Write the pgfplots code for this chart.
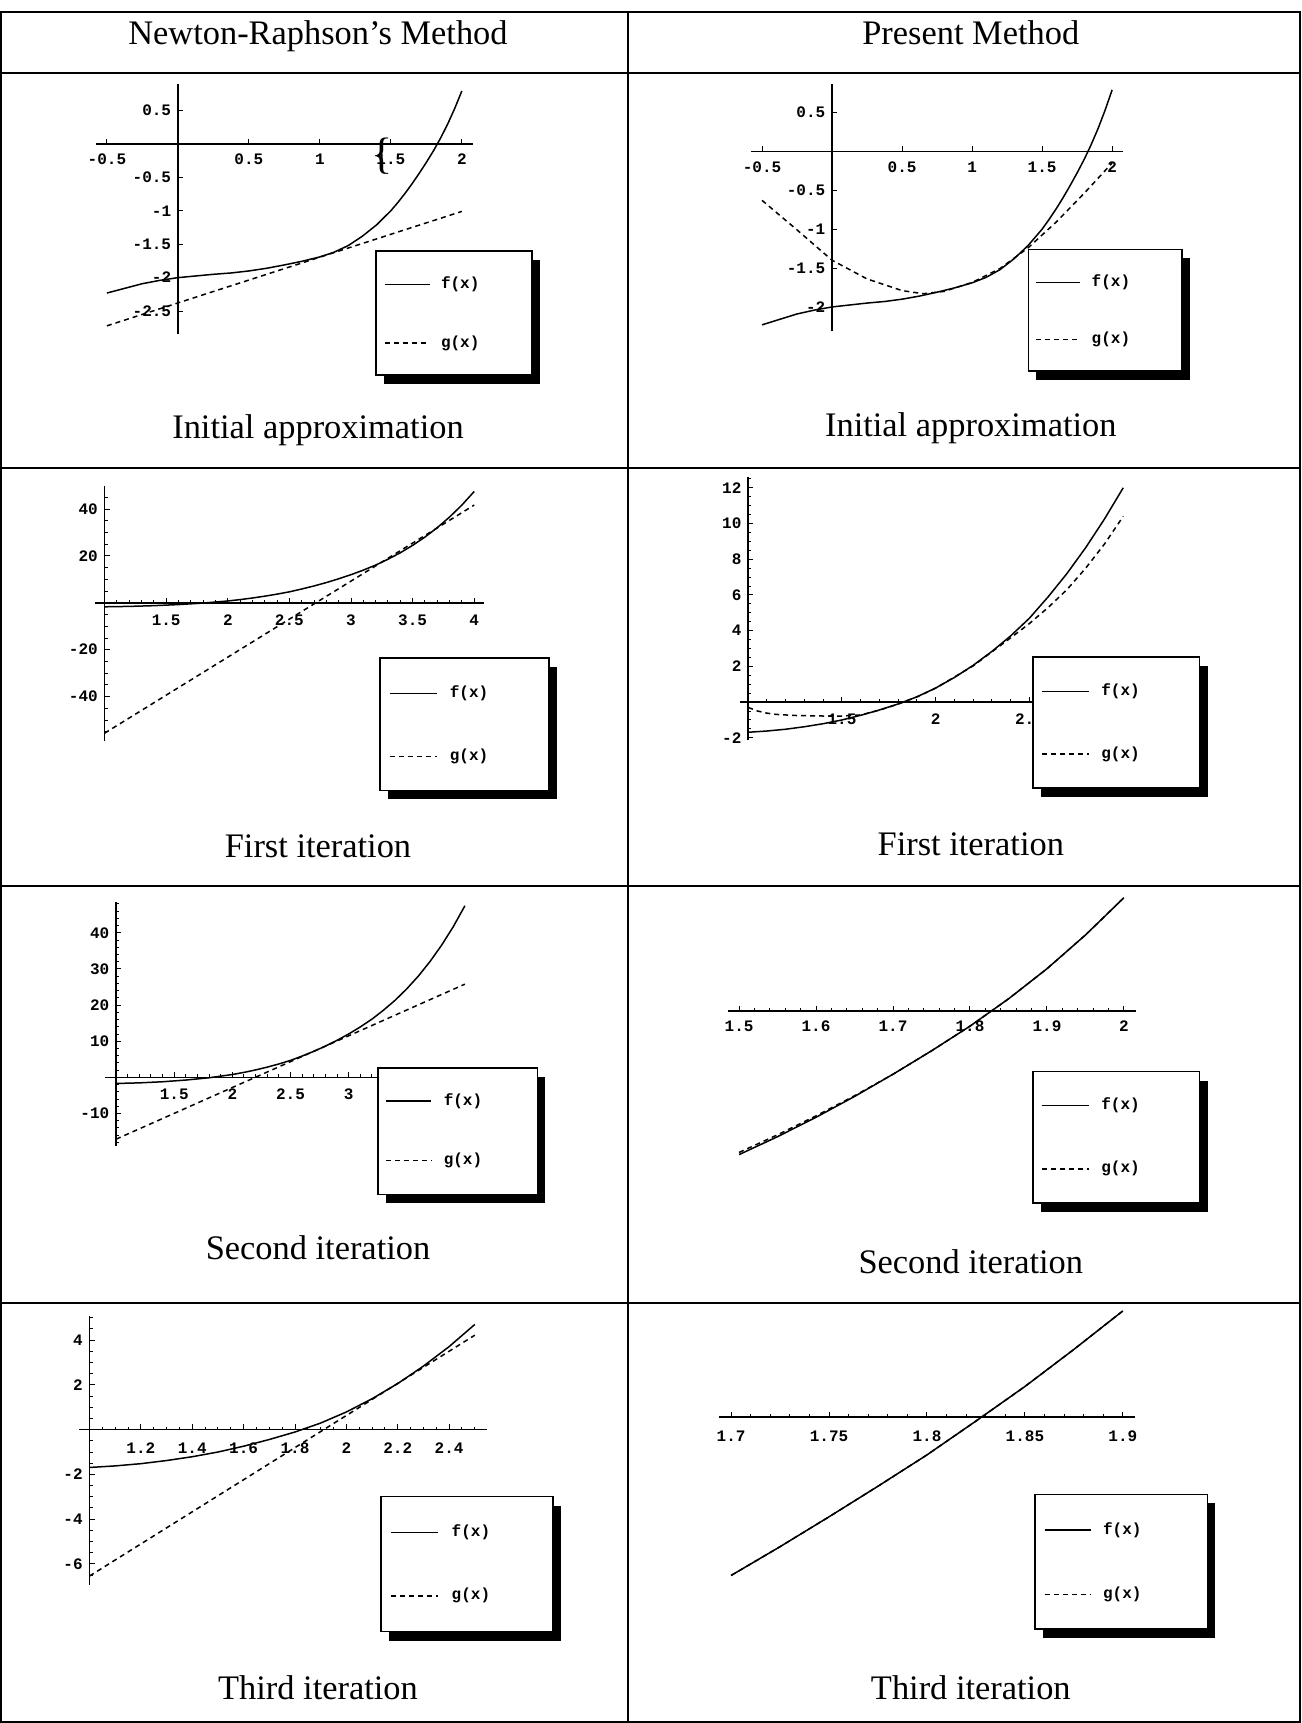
\documentclass[border=0pt]{standalone}
\usepackage{pgfplots}
\pgfplotsset{compat=1.18}
\usepackage{fontspec}
\setmainfont{Liberation Serif}
\setmonofont{Liberation Mono}
\usetikzlibrary{shadows}

\makeatletter
\tikzset{nopre/.code={\let\tikz@preactions\pgfutil@empty}}
\makeatother

\pgfplotsset{
  mm/.style={
    scale only axis, enlargelimits=false, clip=false, anchor=south west,
    axis line style={line width=0.8pt},
    tick style={line width=0.5pt, black},
    major tick length=2.6pt, minor tick length=1.5pt,
    ticklabel style={font=\ttfamily\bfseries\fontsize{8}{9.6}\selectfont},
    yticklabel style={anchor=east, inner sep=0pt, xshift=-3.2pt},
  },
  xlab/.style={xticklabel style={anchor=center, yshift=#1}},
  noarrows/.style={
    axis line style={-},
    every inner x axis line/.append style={-},
    every inner y axis line/.append style={-},
    every outer x axis line/.append style={-},
    every outer y axis line/.append style={-},
    tick align=inside,
  },
  fs/.style={black, line width=0.75pt},
  gs/.style={black, line width=0.75pt, dash pattern=on 2.5pt off 2pt},
  leg/.style n args={9}{
    legend image code/.code={\draw[nopre,##1] (0pt,0pt) -- (#4,0pt);},
    legend entries={{\parbox[c][#7][c]{#6}{f(x)}},{\parbox[c][#8][c]{#6}{g(x)}}},
    legend style={at={(#1,#2)}, anchor=north west, draw=black, line width=0.9pt, fill=white,
      general shadow={fill=black, shadow xshift=4pt, shadow yshift=-4.5pt},
      inner xsep=#3, inner ysep=0pt, row sep=#9, column sep=#5,
      nodes={inner sep=0pt, text depth=, font=\ttfamily\bfseries\fontsize{8}{9.6}\selectfont},
      cells={anchor=center}},
  },
}

\begin{document}
\begin{tikzpicture}
\useasboundingbox (0,0) rectangle (650.5pt,861.5pt);

% ---------- table ----------
\draw[line width=1pt] (0.5pt,0.5pt) rectangle (650pt,855.5pt);
\draw[line width=1pt] (314pt,0.5pt) -- (314pt,855.5pt);
\foreach \yy in {825.15,627.5,418.5,210.15} \draw[line width=1pt] (0.5pt,\yy pt) -- (650pt,\yy pt);

\begin{scope}[every node/.style={anchor=base, font=\fontsize{17.2}{20}\selectfont, inner sep=0pt}]
\node at (159pt,839.35pt) {Newton-Raphson’s Method};
\node at (485.4pt,839.35pt) {Present Method};
\node at (159pt,642.15pt) {Initial approximation};
\node at (485.4pt,643.25pt) {Initial approximation};
\node at (159pt,432.85pt) {First iteration};
\node at (485.4pt,433.9pt) {First iteration};
\node at (159pt,231.75pt) {Second iteration};
\node at (485.4pt,224.6pt) {Second iteration};
\node at (159pt,11.95pt) {Third iteration};
\node at (485.4pt,11.95pt) {Third iteration};
\end{scope}

% ---------- Panel 1: Newton initial ----------
\begin{axis}[mm, at={(47.85pt,694.7pt)}, width=188.4pt, height=124.65pt,
  xmin=-0.579, xmax=2.075, ymin=-2.836, ymax=0.89,
  axis lines=middle, xlab=-7.7pt,
  xtick={-0.5,0.5,1,1.5,2}, xticklabels={-0.5,0.5,1,1.5,2},
  ytick={-2.5,-2,-1.5,-1,-0.5,0.5}, yticklabels={-2.5,-2,-1.5,-1,-0.5,0.5},
  leg={0.7423}{0.3337}{3.9pt}{22.35pt}{5.35pt}{41.6pt}{33.2pt}{32.2pt}{-3.45pt},
  noarrows]
\addplot[fs] coordinates {(-0.5,-2.23) (-0.375,-2.16) (-0.25,-2.09) (-0.125,-2.04) (0,-2.0) (0.125,-1.975) (0.25,-1.95) (0.375,-1.93) (0.5,-1.90) (0.625,-1.86) (0.75,-1.81) (0.875,-1.755) (1.0,-1.69) (1.1,-1.62) (1.2,-1.52) (1.3,-1.38) (1.4,-1.21) (1.5,-1.0) (1.55,-0.875) (1.6,-0.74) (1.65,-0.595) (1.7,-0.44) (1.75,-0.277) (1.8,-0.105) (1.85,0.085) (1.9,0.295) (1.95,0.53) (2.0,0.79)};
\addplot[gs] coordinates {(-0.5,-2.72) (2,-1.01)};
\end{axis}
\node[font=\fontsize{22}{22}\selectfont, inner sep=0pt] at (191.2pt,783.2pt) {\{};

% ---------- Panel 2: Present initial ----------
\begin{axis}[mm, at={(375.7pt,695.8pt)}, width=185.75pt, height=123.55pt,
  xmin=-0.576, xmax=2.077, ymin=-2.314, ymax=0.862,
  axis lines=middle, xlab=-7.85pt,
  xtick={-0.5,0.5,1,1.5,2}, xticklabels={-0.5,0.5,1,1.5,2},
  ytick={-2,-1.5,-1,-0.5,0.5}, yticklabels={-2,-1.5,-1,-0.5,0.5},
  leg={0.7432}{0.3351}{3.55pt}{22pt}{5.35pt}{41.45pt}{32.8pt}{31.4pt}{-3.5pt},
  noarrows]
\addplot[fs] coordinates {(-0.5,-2.23) (-0.375,-2.16) (-0.25,-2.09) (-0.125,-2.04) (0,-2.0) (0.125,-1.975) (0.25,-1.95) (0.375,-1.93) (0.5,-1.90) (0.625,-1.86) (0.75,-1.81) (0.875,-1.755) (1.0,-1.69) (1.1,-1.62) (1.2,-1.52) (1.3,-1.38) (1.4,-1.21) (1.5,-1.0) (1.55,-0.875) (1.6,-0.74) (1.65,-0.595) (1.7,-0.44) (1.75,-0.277) (1.8,-0.105) (1.85,0.085) (1.9,0.295) (1.95,0.53) (2.0,0.79)};
\addplot[gs] coordinates {(-0.5,-0.63) (-0.25,-1.01) (0,-1.40) (0.25,-1.64) (0.5,-1.79) (0.65,-1.83) (0.8,-1.80) (1.0,-1.685) (1.2,-1.505) (1.4,-1.24) (1.6,-0.91) (1.8,-0.54) (2.0,-0.15)};
\end{axis}

% ---------- Panel 3: Newton first ----------
\begin{axis}[mm, at={(52.3pt,490.8pt)}, width=189.85pt, height=127.65pt,
  xmin=1, xmax=4.082, ymin=-59.1, ymax=49.8,
  axis x line=middle, axis y line=left, xlab=-8.55pt,
  xtick={1.5,2,2.5,3,3.5,4}, xticklabels={1.5,2,2.5,3,3.5,4},
  minor xtick={1.1,1.2,...,4.0},
  ytick={-40,-20,20,40}, yticklabels={-40,-20,20,40},
  minor ytick={-55,-50,...,45},
  leg={0.7224}{0.3286}{4.5pt}{23.9pt}{5.9pt}{44.95pt}{35pt}{33.9pt}{-2.85pt},
  noarrows]
\addplot[fs] coordinates {(1.0,-1.69) (1.2,-1.52) (1.4,-1.21) (1.6,-0.74) (1.8,-0.105) (2.0,0.79) (2.1,1.38) (2.2,2.06) (2.3,2.84) (2.4,3.71) (2.5,4.70) (2.6,5.9) (2.7,7.2) (2.8,8.65) (2.9,10.25) (3.0,12.0) (3.1,13.95) (3.2,16.1) (3.3,18.6) (3.4,21.35) (3.5,24.5) (3.6,28.05) (3.7,32.06) (3.8,36.6) (3.9,41.7) (4.0,47.5)};
\addplot[gs] coordinates {(1,-55.6) (4,41.7)};
\draw[line width=0.8pt] (axis cs:0.919,0) -- (axis cs:1,0);
\end{axis}

% ---------- Panel 4: Present first ----------
\begin{axis}[mm, at={(374.1pt,491.7pt)}, width=191.25pt, height=131.25pt,
  xmin=1, xmax=3.04, ymin=-2.1, ymax=12.6,
  axis x line=middle, axis y line=left, xlab=-8.4pt,
  xtick={1.5,2,2.5,3}, xticklabels={1.5,2,2.5,3},
  minor xtick={1.1,1.2,...,3.0},
  ytick={-2,2,4,6,8,10,12}, yticklabels={-2,2,4,6,8,10,12},
  minor ytick={-1.5,-1,...,12.5},
  leg={0.7422}{0.3170}{4.3pt}{23.2pt}{5.9pt}{44.8pt}{34.3pt}{33.9pt}{-2.85pt},
  noarrows]
\addplot[fs] coordinates {(1.0,-1.69) (1.1,-1.62) (1.2,-1.52) (1.3,-1.38) (1.4,-1.21) (1.5,-1.0) (1.6,-0.74) (1.7,-0.44) (1.8,-0.105) (1.9,0.295) (2.0,0.79) (2.1,1.38) (2.2,2.06) (2.3,2.84) (2.4,3.71) (2.5,4.70) (2.6,5.9) (2.7,7.2) (2.8,8.65) (2.9,10.25) (3.0,12.0)};
\addplot[gs] coordinates {(1.0,-0.30) (1.05,-0.50) (1.1,-0.62) (1.15,-0.69) (1.25,-0.75) (1.4,-0.78) (1.5,-0.78) (1.6,-0.72) (1.7,-0.45) (1.8,-0.11) (1.9,0.29) (2.0,0.78) (2.2,2.03) (2.4,3.6) (2.5,4.4) (2.6,5.3) (2.7,6.3) (2.8,7.5) (2.9,8.85) (3.0,10.4)};
\draw[line width=0.8pt] (axis cs:0.956,0) -- (axis cs:1,0);
\end{axis}

% ---------- Panel 5: Newton second ----------
\begin{axis}[mm, at={(58.05pt,288.3pt)}, width=179.05pt, height=121.95pt,
  xmin=1, xmax=4.08, ymin=-19.1, ymax=48.4,
  axis x line=middle, axis y line=left, xlab=-8.4pt,
  xtick={1.5,2,2.5,3,3.5,4}, xticklabels={1.5,2,2.5,3,3.5,4},
  minor xtick={1.1,1.2,...,4.0},
  ytick={-10,10,20,30,40}, yticklabels={-10,10,20,30,40},
  minor ytick={-18,-16,...,48},
  leg={0.7280}{0.3264}{3.75pt}{22.65pt}{5.9pt}{43.05pt}{33.2pt}{34pt}{-3.8pt},
  noarrows]
\addplot[fs] coordinates {(1.0,-1.69) (1.2,-1.52) (1.4,-1.21) (1.6,-0.74) (1.8,-0.105) (2.0,0.79) (2.1,1.38) (2.2,2.06) (2.3,2.84) (2.4,3.71) (2.5,4.70) (2.6,5.9) (2.7,7.2) (2.8,8.65) (2.9,10.25) (3.0,12.0) (3.1,13.95) (3.2,16.1) (3.3,18.6) (3.4,21.35) (3.5,24.5) (3.6,28.05) (3.7,32.06) (3.8,36.6) (3.9,41.7) (4.0,47.5)};
\addplot[gs] coordinates {(1,-17.1) (4,25.8)};
\draw[line width=0.8pt] (axis cs:0.901,0) -- (axis cs:1,0);
\end{axis}

% ---------- Panel 6: Present second ----------
\begin{axis}[mm, at={(363.75pt,280.6pt)}, width=204.1pt, height=136.35pt,
  xmin=1.485, xmax=2.0153, ymin=-1.05, ymax=0.85,
  axis x line=middle, axis y line=none, xlab=-7.5pt,
  xtick={1.5,1.6,1.7,1.8,1.9,2}, xticklabels={1.5,1.6,1.7,1.8,1.9,2},
  minor xtick={1.52,1.54,...,2.0},
  leg={0.7462}{0.3341}{3.95pt}{23.55pt}{5.9pt}{45.15pt}{33.9pt}{34.2pt}{-2.4pt},
  noarrows]
\addplot[fs] coordinates {(1.5,-1.0) (1.55,-0.875) (1.6,-0.74) (1.65,-0.595) (1.7,-0.44) (1.75,-0.277) (1.8,-0.105) (1.85,0.085) (1.9,0.295) (1.95,0.53) (2.0,0.79)};
\addplot[gs] coordinates {(1.5,-0.985) (1.55,-0.862) (1.6,-0.73) (1.65,-0.59) (1.7,-0.44) (1.75,-0.277) (1.8,-0.105) (1.85,0.085) (1.9,0.295) (1.95,0.53) (2.0,0.79)};
\end{axis}

% ---------- Panel 7: Newton third ----------
\begin{axis}[mm, at={(44.75pt,69pt)}, width=198.7pt, height=134.3pt,
  xmin=1, xmax=2.547, ymin=-6.94, ymax=5.06,
  axis x line=middle, axis y line=left, xlab=-9.3pt,
  xtick={1.2,1.4,1.6,1.8,2,2.2,2.4}, xticklabels={1.2,1.4,1.6,1.8,2,2.2,2.4},
  minor xtick={1.05,1.1,...,2.5},
  ytick={-6,-4,-2,2,4}, yticklabels={-6,-4,-2,2,4},
  minor ytick={-6.5,-6,...,5},
  leg={0.7320}{0.3325}{4.45pt}{23.75pt}{6.25pt}{46.1pt}{35.7pt}{35.7pt}{-3.9pt},
  noarrows]
\addplot[fs] coordinates {(1.0,-1.69) (1.1,-1.62) (1.2,-1.52) (1.3,-1.38) (1.4,-1.21) (1.5,-1.0) (1.6,-0.74) (1.7,-0.44) (1.8,-0.105) (1.9,0.295) (2.0,0.79) (2.1,1.38) (2.2,2.06) (2.3,2.84) (2.4,3.71) (2.5,4.70)};
\addplot[gs] coordinates {(1,-6.54) (2.5,4.22)};
\draw[line width=0.8pt] (axis cs:0.96,0) -- (axis cs:1,0);
\end{axis}

% ---------- Panel 8: Present third ----------
\begin{axis}[mm, at={(359.65pt,71.95pt)}, width=207.65pt, height=135pt,
  xmin=1.694, xmax=1.906, ymin=-0.45, ymax=0.30,
  axis x line=middle, axis y line=none, xlab=-9.45pt,
  xtick={1.7,1.75,1.8,1.85,1.9}, xticklabels={1.7,1.75,1.8,1.85,1.9},
  minor xtick={1.71,1.72,...,1.9},
  leg={0.7575}{0.3167}{4.5pt}{23.2pt}{5.7pt}{47.65pt}{35.7pt}{34.6pt}{-3.0pt},
  noarrows]
\addplot[fs] coordinates {(1.7,-0.44) (1.725,-0.36) (1.75,-0.277) (1.775,-0.192) (1.8,-0.105) (1.825,-0.011) (1.85,0.085) (1.875,0.188) (1.9,0.295)};
\addplot[gs] coordinates {(1.7,-0.44) (1.725,-0.36) (1.75,-0.277) (1.775,-0.192) (1.8,-0.105) (1.825,-0.011) (1.85,0.085) (1.875,0.188) (1.9,0.295)};
\end{axis}

\end{tikzpicture}
\end{document}
